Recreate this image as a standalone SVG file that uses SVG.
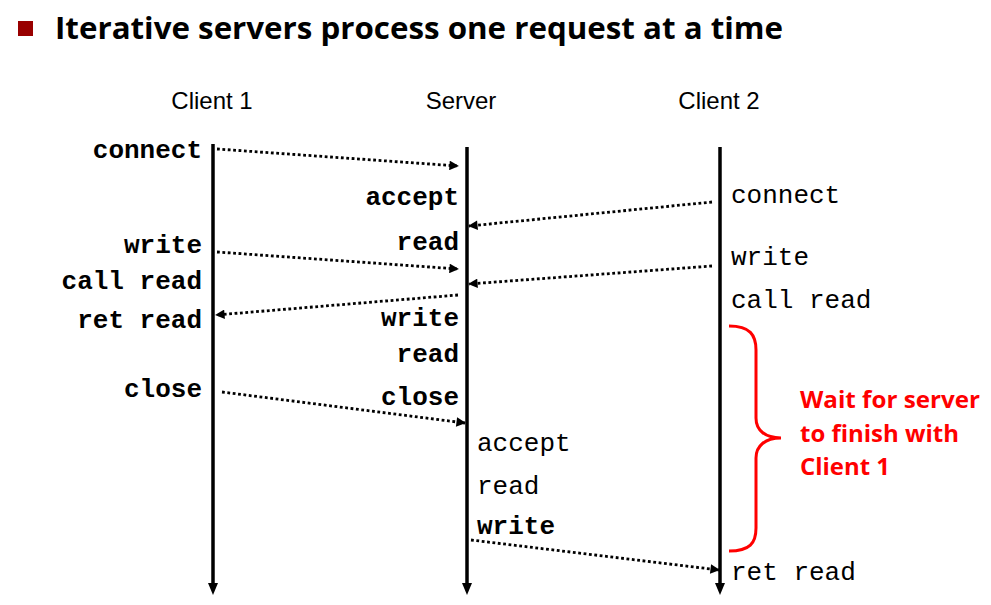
<svg xmlns="http://www.w3.org/2000/svg" width="991" height="605" viewBox="0 0 991 605">
<style>
.mono{font-family:"Liberation Mono","Courier New",monospace;font-size:26px;fill:#000}
.b{font-weight:bold}
.hdr{font-family:"Liberation Sans",Arial,sans-serif;font-size:24px;fill:#000;text-anchor:middle}
.title{font-family:"Open Sans","Liberation Sans",sans-serif;font-weight:bold;font-size:31px;fill:#000}
.note{font-family:"Open Sans","Liberation Sans",sans-serif;font-weight:bold;font-size:23px;fill:#ff0000}
.life{stroke:#000;stroke-width:3.5;fill:none}
.msg{stroke:#000;stroke-width:2.8;stroke-dasharray:2.8 2.6;fill:none;marker-end:url(#ah)}
.e{text-anchor:end}
</style>
<defs>
<marker id="ah" viewBox="0 0 10 10" refX="9" refY="5" markerWidth="3.8" markerHeight="3.4" orient="auto" markerUnits="strokeWidth">
<path d="M0,0 L10,5 L0,10 z" fill="#000"/>
</marker>
</defs>
<g id="title">
<rect x="18" y="21" width="15" height="15" fill="#990000"/>
<text class="title" x="55" y="39" textLength="728" lengthAdjust="spacingAndGlyphs">Iterative servers process one request at a time</text>
</g>
<g id="client1">
<text class="hdr" x="212" y="109">Client 1</text>
<line class="life" x1="213" y1="144" x2="213" y2="584"/>
<path d="M208,583 L218,583 L213,595 z" fill="#000"/>
<text class="mono b e" x="202" y="158">connect</text>
<text class="mono b e" x="202" y="253">write</text>
<text class="mono b e" x="202" y="289">call read</text>
<text class="mono b e" x="202" y="328">ret read</text>
<text class="mono b e" x="202" y="397">close</text>
</g>
<g id="server">
<text class="hdr" x="461" y="109">Server</text>
<line class="life" x1="467" y1="147" x2="467" y2="584"/>
<path d="M462,583 L472,583 L467,595 z" fill="#000"/>
<text class="mono b e" x="459" y="205">accept</text>
<text class="mono b e" x="459" y="250">read</text>
<text class="mono b e" x="459" y="326">write</text>
<text class="mono b e" x="459" y="362">read</text>
<text class="mono b e" x="459" y="405">close</text>
<text class="mono" x="477" y="451">accept</text>
<text class="mono" x="477" y="494">read</text>
<text class="mono b" x="477" y="534">write</text>
</g>
<g id="client2">
<text class="hdr" x="719" y="109">Client 2</text>
<line class="life" x1="720" y1="147" x2="720" y2="584"/>
<path d="M715,583 L725,583 L720,595 z" fill="#000"/>
<text class="mono" x="731" y="203">connect</text>
<text class="mono" x="731" y="265">write</text>
<text class="mono" x="731" y="308">call read</text>
<text class="mono" x="731" y="580">ret read</text>
</g>
<g id="wait-note">
<path d="M729,326 C750,326 756,335 756,350 L756,418 C756,430 765,438 781,438 C765,438 756,446 756,458 L756,528 C756,543 750,551 729,551" fill="none" stroke="#ff0000" stroke-width="3"/>
<text class="note" x="800" y="408" textLength="180" lengthAdjust="spacingAndGlyphs">Wait for server</text>
<text class="note" x="800" y="442" textLength="159" lengthAdjust="spacingAndGlyphs">to finish with</text>
<text class="note" x="800" y="475" textLength="90" lengthAdjust="spacingAndGlyphs">Client 1</text>
</g>
<g id="connectors">
<line class="msg" x1="217" y1="149" x2="458" y2="166"/>
<line class="msg" x1="712" y1="202" x2="469" y2="226"/>
<line class="msg" x1="217" y1="252" x2="458" y2="269"/>
<line class="msg" x1="712" y1="266" x2="469" y2="284"/>
<line class="msg" x1="458" y1="295" x2="216" y2="315"/>
<line class="msg" x1="222" y1="392" x2="465" y2="423"/>
<line class="msg" x1="471" y1="540" x2="719" y2="570"/>
</g>
</svg>
